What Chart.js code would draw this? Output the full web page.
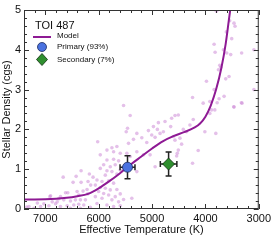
<!DOCTYPE html>
<html>
<head>
<meta charset="utf-8">
<script src="https://cdn.jsdelivr.net/npm/chart.js@4.4.0/dist/chart.umd.min.js"></script>
<style>
  html, body { margin: 0; padding: 0; background: #fff; }
  #wrap { width: 274px; height: 240px; }
</style>
</head>
<body>
<div id="wrap"><canvas id="densityChart" width="274" height="240"></canvas></div>
<script>
// sample of field stars (Teff in K, density in cgs)
const sampleTeff = [
  6330, 6666, 6423, 6175, 6480, 6330, 6200, 6106, 6622, 6579, 6405, 6293, 6218, 6716, 6747,
  6902, 6374, 6206, 6871, 6778, 6654, 6529, 6436, 6343, 6249, 7027, 6933, 6809, 6716, 6591,
  6467, 6374, 6280, 7307, 7213, 7089, 6529, 6343, 6156, 7350, 6915, 7150, 6150,
  5534, 5410, 6019, 5484, 5460, 5285, 5068, 4974, 4881, 4900, 5006, 5099, 4943, 4850, 5348,
  5192, 5441, 5659, 5752, 5845, 5721, 5596, 5472, 5285, 5161, 5037, 5410, 5970, 5845, 5721,
  5627, 5907, 5783, 5690, 5970, 5845, 5752, 5876, 5659, 5596, 5285, 4943, 6032, 5938, 5814,
  5721, 6063, 5970, 5876, 5783, 5659, 6001, 5907, 5814, 5690, 5596, 6063, 5938, 5752, 5627,
  5534, 5379, 6032, 5845, 5721, 5596,
  4042, 3917, 3780, 3469, 3326, 3886, 3824, 3917, 4570, 4508, 4633, 4757, 4228, 4290, 4651,
  4415, 4353, 4010, 3805, 4788, 4601, 4477, 4570, 4446, 4508, 4527, 4539, 4135, 4241,
  3793, 3545, 3464, 3445, 3607, 3507, 3837, 3818, 3663, 3601, 3526, 3321, 3091, 3731, 3756,
  3713, 3557, 3619, 3980, 3837, 4241, 3650, 3091, 3744, 3314, 3463
];
const sampleRho = [
  0.96, 0.80, 0.82, 0.88, 0.67, 0.67, 0.69, 0.80, 0.41, 0.41, 0.44, 0.45, 0.49, 0.31, 0.26,
  0.33, 0.35, 0.38, 0.18, 0.18, 0.23, 0.20, 0.23, 0.23, 0.23, 0.13, 0.08, 0.13, 0.06, 0.08,
  0.10, 0.12, 0.10, 0.06, 0.02, 0.06, 0.02, 0.02, 0.04, 0.05, 0.31, 0.15, 0.60,
  2.60, 2.35, 1.69, 1.94, 2.03, 1.90, 1.97, 2.07, 2.17, 2.00, 1.86, 1.67, 1.80, 1.90, 1.75,
  1.79, 1.65, 1.57, 1.54, 1.48, 1.44, 1.40, 1.40, 1.44, 1.36, 1.36, 1.32, 1.36, 1.23, 1.25,
  1.21, 1.11, 1.06, 1.11, 1.02, 0.96, 0.94, 0.85, 0.88, 0.98, 0.94, 1.06, 0.73, 0.69, 0.71,
  0.65, 0.60, 0.54, 0.52, 0.48, 0.49, 0.44, 0.39, 0.35, 0.31, 0.38, 0.31, 0.27, 0.23, 0.18,
  0.24, 0.27, 0.14, 0.10, 0.06, 0.08,
  2.66, 2.70, 2.67, 2.57, 2.67, 2.49, 2.49, 2.40, 2.35, 2.36, 2.28, 2.20, 2.25, 2.11, 2.07,
  2.00, 1.94, 1.94, 1.90, 1.94, 1.82, 1.78, 1.73, 1.63, 1.48, 1.40, 1.33, 1.47, 1.15,
  4.97, 4.73, 4.67, 4.59, 4.45, 4.28, 4.14, 3.94, 4.00, 3.92, 3.88, 3.92, 4.00, 3.61, 3.50,
  3.56, 3.33, 3.27, 3.21, 3.00, 2.80, 2.83, 3.00, 2.77, 2.66, 2.56
];

// model isochrone
const modelTeff = [7400, 7000, 6600, 6400, 6200, 6000, 5800, 5600, 5400, 5200, 5000, 4800,
  4600, 4400, 4200, 4100, 4000, 3900, 3800, 3700, 3620, 3560, 3510];
const modelRho = [0.24, 0.245, 0.28, 0.32, 0.38, 0.52, 0.70, 0.90, 1.12, 1.32, 1.52, 1.70,
  1.83, 1.93, 2.05, 2.15, 2.32, 2.60, 3.00, 3.55, 4.15, 4.75, 5.25];

// TOI 487 solutions
const starNames = ['Primary (93%)', 'Secondary (7%)'];
const starTeff = [5460, 4690];
const starRho = [1.05, 1.13];
const starTeffErr = [140, 155];
const starRhoErr = [0.29, 0.30];

const xTicks = [7000, 6000, 5000, 4000, 3000];
const yTicks = [0, 1, 2, 3, 4, 5];

const FONT = '"Liberation Sans", Arial, Helvetica, sans-serif';
const PURPLE = '#8e1a94';
const BLUE = '#4a72e0';
const GREEN = '#2f8f2f';

const errorBars = {
    id: 'errorBars',
    afterDatasetDraw(chart, args) {
        if (args.index !== 2) return;
        const { ctx, scales: { x, y } } = chart;
        ctx.save();
        ctx.strokeStyle = '#222';
        ctx.lineWidth = 1.5;
        const cap = 3;
        for (let i = 0; i < starTeff.length; i++) {
            const px = x.getPixelForValue(starTeff[i]);
            const py = y.getPixelForValue(starRho[i]);
            const x1 = x.getPixelForValue(starTeff[i] - starTeffErr[i]);
            const x2 = x.getPixelForValue(starTeff[i] + starTeffErr[i]);
            const y1 = y.getPixelForValue(starRho[i] - starRhoErr[i]);
            const y2 = y.getPixelForValue(starRho[i] + starRhoErr[i]);
            ctx.beginPath();
            ctx.moveTo(x1, py); ctx.lineTo(x2, py);
            ctx.moveTo(x1, py - cap); ctx.lineTo(x1, py + cap);
            ctx.moveTo(x2, py - cap); ctx.lineTo(x2, py + cap);
            ctx.moveTo(px, y1); ctx.lineTo(px, y2);
            ctx.moveTo(px - cap, y1); ctx.lineTo(px + cap, y1);
            ctx.moveTo(px - cap, y2); ctx.lineTo(px + cap, y2);
            ctx.stroke();
        }
        ctx.restore();
    }
};

// frame with inward ticks on all four sides, plus the legend box
const frameAndLegend = {
    id: 'frameAndLegend',
    afterDraw(chart) {
        const { ctx, chartArea: a, scales: { x, y } } = chart;
        ctx.save();
        ctx.strokeStyle = '#333';
        ctx.lineWidth = 1;
        ctx.strokeRect(a.left + 0.5, a.top + 0.5, a.right - a.left - 1, a.bottom - a.top - 1);
        ctx.beginPath();
        for (let t = 3000; t <= 7400; t += 200) {
            const px = Math.round(x.getPixelForValue(t)) + 0.5;
            const len = t % 1000 === 0 ? 5 : 3;
            ctx.moveTo(px, a.bottom); ctx.lineTo(px, a.bottom - len);
            ctx.moveTo(px, a.top); ctx.lineTo(px, a.top + len);
        }
        for (let k = 0; k <= 25; k++) {
            const v = k / 5;
            const py = Math.round(y.getPixelForValue(v)) + 0.5;
            const len = k % 5 === 0 ? 5 : 3;
            ctx.moveTo(a.left, py); ctx.lineTo(a.left + len, py);
            ctx.moveTo(a.right, py); ctx.lineTo(a.right - len, py);
        }
        ctx.stroke();

        // legend
        ctx.fillStyle = '#111';
        ctx.textBaseline = 'middle';
        ctx.font = '11px ' + FONT;
        ctx.fillText('TOI 487', 35, 26);
        ctx.font = '8px ' + FONT;
        ctx.strokeStyle = PURPLE;
        ctx.lineWidth = 2;
        ctx.beginPath();
        ctx.moveTo(33, 37); ctx.lineTo(51, 37);
        ctx.stroke();
        ctx.fillText('Model', 57, 36);

        ctx.fillStyle = BLUE;
        ctx.strokeStyle = '#1a2a60';
        ctx.lineWidth = 0.8;
        ctx.beginPath();
        ctx.arc(42, 47, 4.5, 0, Math.PI * 2);
        ctx.fill(); ctx.stroke();

        ctx.fillStyle = GREEN;
        ctx.strokeStyle = '#103010';
        ctx.beginPath();
        ctx.moveTo(42, 53.5); ctx.lineTo(47.5, 59.5); ctx.lineTo(42, 65.5); ctx.lineTo(36.5, 59.5);
        ctx.closePath();
        ctx.fill(); ctx.stroke();

        ctx.fillStyle = '#111';
        ctx.fillText(starNames[0], 57, 47);
        ctx.fillText(starNames[1], 57, 59.5);
        ctx.restore();
    }
};

document.addEventListener('DOMContentLoaded', () => {
    const canvas = document.getElementById('densityChart');
    createDensityChart(canvas);
});

function createDensityChart(canvasElement) {
    const ctx = canvasElement.getContext('2d');
    new Chart(ctx, {
        type: 'scatter',
        data: {
            datasets: [
                {
                    label: starNames[0],
                    data: [{ x: starTeff[0], y: starRho[0] }],
                    pointStyle: 'circle',
                    pointRadius: 5,
                    backgroundColor: BLUE,
                    borderColor: '#1a2a60',
                    borderWidth: 0.8
                },
                {
                    label: starNames[1],
                    data: [{ x: starTeff[1], y: starRho[1] }],
                    pointStyle: 'rectRot',
                    pointRadius: 6,
                    backgroundColor: GREEN,
                    borderColor: '#103010',
                    borderWidth: 0.8
                },
                {
                    label: 'Model',
                    type: 'line',
                    data: modelTeff.map((t, i) => ({ x: t, y: modelRho[i] })),
                    borderColor: PURPLE,
                    borderWidth: 2,
                    pointRadius: 0,
                    fill: false,
                    cubicInterpolationMode: 'monotone'
                },
                {
                    label: 'Sample',
                    data: sampleTeff.map((t, i) => ({ x: t, y: sampleRho[i] })),
                    pointRadius: 1.8,
                    borderWidth: 0,
                    backgroundColor: 'rgba(205, 140, 215, 0.55)'
                }
            ]
        },
        options: {
            responsive: false,
            animation: false,
            devicePixelRatio: 1,
            layout: { padding: { top: 10, right: 14, left: 0, bottom: 0 } },
            plugins: {
                legend: { display: false },
                tooltip: { enabled: false }
            },
            scales: {
                x: {
                    type: 'linear',
                    reverse: true,
                    min: 3000,
                    max: 7400,
                    afterBuildTicks: (scale) => { scale.ticks = xTicks.map(v => ({ value: v })); },
                    afterFit: (scale) => { scale.height = 31; },
                    grid: { display: false, drawTicks: false },
                    border: { display: false },
                    ticks: {
                        padding: 3,
                        color: '#111',
                        maxRotation: 0,
                        callback: (v) => String(v),
                        font: { family: FONT, size: 11 }
                    },
                    title: {
                        display: true,
                        text: 'Effective Temperature (K)',
                        color: '#111',
                        padding: { top: 0, bottom: 3 },
                        font: { family: FONT, size: 11 }
                    }
                },
                y: {
                    type: 'linear',
                    min: 0,
                    max: 5,
                    afterBuildTicks: (scale) => { scale.ticks = yTicks.map(v => ({ value: v })); },
                    afterFit: (scale) => { scale.width = 24; },
                    grid: { display: false, drawTicks: false },
                    border: { display: false },
                    ticks: {
                        padding: 3,
                        color: '#111',
                        callback: (v) => String(v),
                        font: { family: FONT, size: 11 }
                    },
                    title: {
                        display: true,
                        text: 'Stellar Density (cgs)',
                        color: '#111',
                        padding: 0,
                        font: { family: FONT, size: 11 }
                    }
                }
            }
        },
        plugins: [errorBars, frameAndLegend]
    });
}
</script>
</body>
</html>
